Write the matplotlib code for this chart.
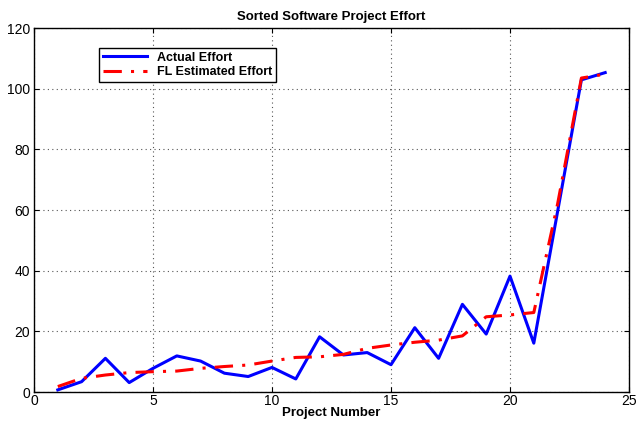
import matplotlib
matplotlib.use("Agg")
import matplotlib.pyplot as plt

projects = list(range(1, 25))
actual = [0.7, 3.4, 11.1, 3.1, 7.8, 11.9, 10.2, 6.2, 5.1, 8.1, 4.3, 18.2,
          12.2, 13.0, 9.0, 21.2, 11.1, 28.9, 19.1, 38.2, 16.1, 59.5, 102.9, 105.3]
estimated = [1.8, 4.5, 5.6, 6.4, 6.7, 6.9, 7.8, 8.4, 8.9, 10.2, 11.4, 11.6,
             12.4, 14.4, 15.5, 16.4, 17.1, 18.5, 24.8, 25.4, 26.2, 62.0, 103.5, 104.8]

plt.rcParams['font.family'] = ['Liberation Sans', 'DejaVu Sans']

fig = plt.figure(figsize=(6.36, 4.24), dpi=100)
ax = fig.add_axes([34/636, 1-392/424, 595/636, 364/424])

ax.plot(projects, actual, color='#0000ff', lw=2.2, label='Actual Effort')
ax.plot(projects, estimated, color='#ff0000', lw=2.2, linestyle=(0, (6, 3, 1, 3)),
        label='FL Estimated Effort')

ax.set_xlim(0, 25)
ax.set_ylim(0, 120)
ax.set_xticks([0, 5, 10, 15, 20, 25])
ax.set_yticks([0, 20, 40, 60, 80, 100, 120])
ax.grid(True, linestyle=(0, (1, 3)), color='#555555', lw=0.8)
ax.tick_params(direction='in', top=True, right=True, labelsize=10, length=3.5)
ax.tick_params(axis='x', pad=1.5)
ax.tick_params(axis='y', pad=3)
for s in ax.spines.values():
    s.set_linewidth(1.0)

ax.set_title('Sorted Software Project Effort', fontsize=9.5, fontweight='bold', pad=6)
ax.set_xlabel('Project Number', fontsize=9.5, fontweight='bold', labelpad=-0.5)

leg = ax.legend(loc='upper left', bbox_to_anchor=(0.099, 0.962), fancybox=False,
                edgecolor='black', framealpha=1, prop={'weight': 'bold', 'size': 9},
                handlelength=3.5, borderpad=0.3, labelspacing=0.2)
leg.get_frame().set_linewidth(1.0)

fig.savefig('out.png', dpi=100)
